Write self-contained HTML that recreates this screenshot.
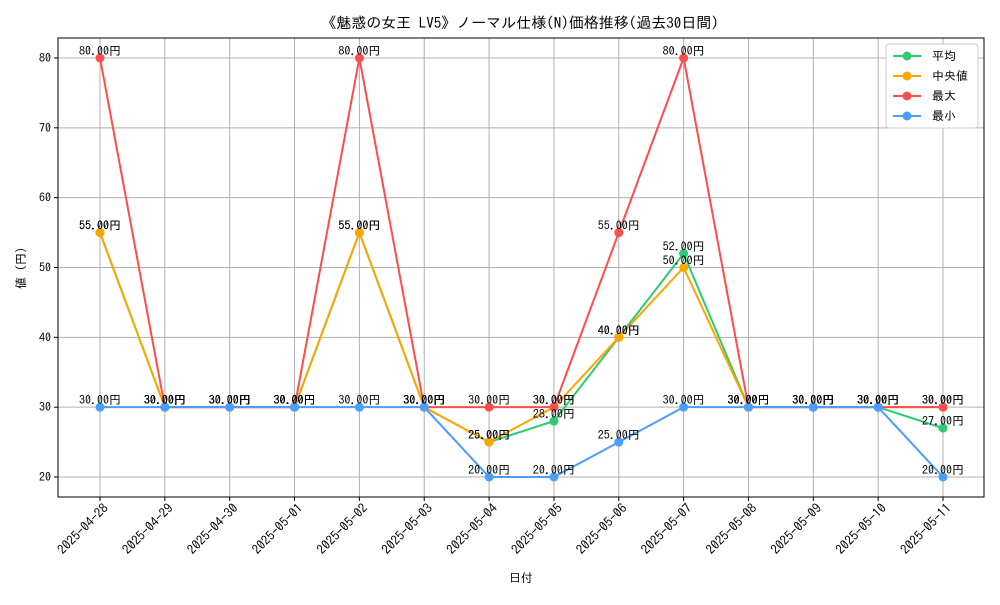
<!DOCTYPE html>
<html><head><meta charset="utf-8">
<style>
body{margin:0;background:#fff;}
svg text{font-family:"IPAGothic","Liberation Sans","Noto Sans CJK JP",sans-serif;}
</style></head>
<body>
<svg id="chart" width="1000" height="600" xmlns="http://www.w3.org/2000/svg">
<rect width="1000" height="600" fill="#fff"/>
<text x="520" y="28" font-size="15" text-anchor="middle">《魅惑の女王 LV5》ノーマル仕様(N)価格推移(過去30日間)</text>
<g id="grid"></g>
<g id="axes"></g>
<g id="series"></g>
<g id="labels"></g>
<text x="521" y="582" font-size="12" text-anchor="middle">日付</text>
<text transform="translate(25,268) rotate(-90)" font-size="12" text-anchor="middle">値 (円)</text>
<g id="legend"></g>
</svg>
<script>
const categories=["2025-04-28","2025-04-29","2025-04-30","2025-05-01","2025-05-02","2025-05-03","2025-05-04","2025-05-05","2025-05-06","2025-05-07","2025-05-08","2025-05-09","2025-05-10","2025-05-11"];
const meanVals=[55,30,30,30,55,30,25,28,40,52,30,30,30,27];
const medianVals=[55,30,30,30,55,30,25,30,40,50,30,30,30,30];
const maxVals=[80,30,30,30,80,30,30,30,55,80,30,30,30,30];
const minVals=[30,30,30,30,30,30,20,20,25,30,30,30,30,20];
const yTicks=[20,30,40,50,60,70,80];
const seriesNames=["平均","中央値","最大","最小"];
const seriesColors=["#2ecc71","#ffa500","#ff4c4c","#4a9eff"];
const L=58,R=984,T=38,B=497;
const NS="http://www.w3.org/2000/svg";
function x(i){return 100+i*(943-100)/(categories.length-1);}
function y(v){return 477-(v-20)*(477-58)/60;}
function mk(tag,attrs,parent){const e=document.createElementNS(NS,tag);for(const k in attrs)e.setAttribute(k,attrs[k]);parent.appendChild(e);return e;}
const grid=document.getElementById('grid'),axes=document.getElementById('axes');
yTicks.forEach(t=>{
 const g=mk('line',{x1:L,x2:R,y1:y(t),y2:y(t),stroke:'#b0b0b0','stroke-width':1},grid);
 
 
 mk('line',{x1:L-4,x2:L,y1:y(t),y2:y(t),stroke:'#000'},axes);
 const tx=mk('text',{x:L-7,y:y(t)+4,'font-size':12,'text-anchor':'end'},axes);
 tx.textContent=t;
 
 
});
categories.forEach((c,i)=>{
 const g=mk('line',{x1:x(i),x2:x(i),y1:T,y2:B,stroke:'#b0b0b0','stroke-width':1},grid);
 
 
 mk('line',{x1:x(i),x2:x(i),y1:B,y2:B+4,stroke:'#000'},axes);
 const tx=mk('text',{transform:`translate(${x(i)+9},${B+12}) rotate(-45)`,'font-size':13,'text-anchor':'end'},axes);
 tx.textContent=c;
 
 
});
const fr=mk('rect',{x:L,y:T,width:R-L,height:B-T,fill:'none',stroke:'#000','stroke-width':1},axes);


const sg=document.getElementById('series'),lg=document.getElementById('labels');
[meanVals,medianVals,maxVals,minVals].forEach((vals,s)=>{
 const pts=vals.map((v,i)=>x(i)+','+y(v)).join(' ');
 const pl=mk('polyline',{points:pts,fill:'none',stroke:seriesColors[s],'stroke-width':2},sg);
 
 
 vals.forEach((v,i)=>{
  const c=mk('circle',{cx:x(i),cy:y(v),r:4.5,fill:seriesColors[s]},sg);
  
  
  const t=mk('text',{x:x(i),y:y(v)-3,'font-size':12,'text-anchor':'middle'},lg);
  t.textContent=v.toFixed(2)+'円';
  
  
 });
});
const leg=document.getElementById('legend');
mk('rect',{x:886,y:44,width:92,height:84,fill:'#fff',stroke:'#ccc',rx:3},leg);
seriesNames.forEach((n,s)=>{
 const yy=56+s*20;
 mk('line',{x1:893,x2:921,y1:yy,y2:yy,stroke:seriesColors[s],'stroke-width':2},leg);
 mk('circle',{cx:907,cy:yy,r:4.5,fill:seriesColors[s]},leg);
 const t=mk('text',{x:932,y:yy+4,'font-size':12},leg);
 t.textContent=n;
 
 
});
</script>
</body></html>
